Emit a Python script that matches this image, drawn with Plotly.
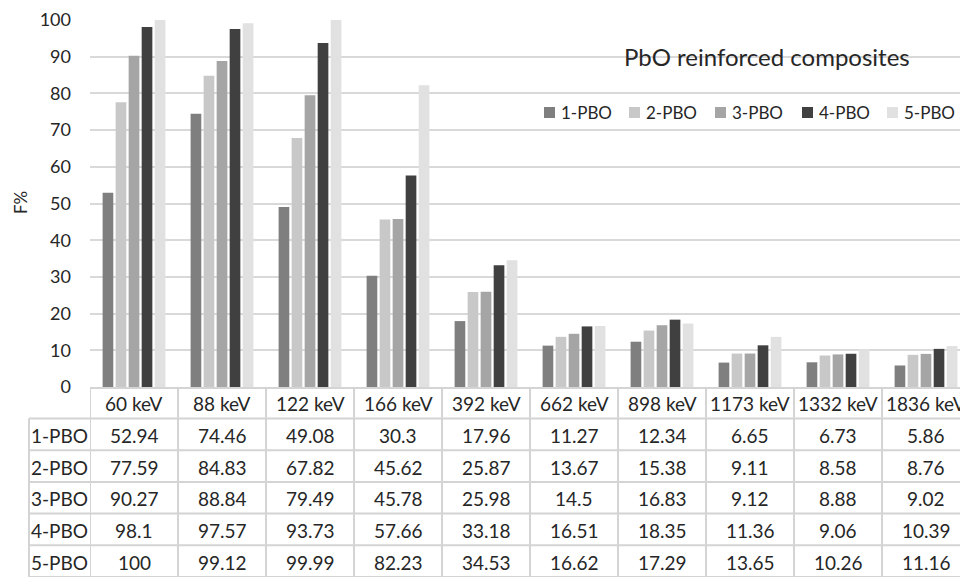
import plotly.graph_objects as go

categories = ["60 keV", "88 keV", "122 keV", "166 keV", "392 keV", "662 keV",
              "898 keV", "1173 keV", "1332 keV", "1836 keV"]
series_names = ["1-PBO", "2-PBO", "3-PBO", "4-PBO", "5-PBO"]
pbo1 = [52.94, 74.46, 49.08, 30.3, 17.96, 11.27, 12.34, 6.65, 6.73, 5.86]
pbo2 = [77.59, 84.83, 67.82, 45.62, 25.87, 13.67, 15.38, 9.11, 8.58, 8.76]
pbo3 = [90.27, 88.84, 79.49, 45.78, 25.98, 14.5, 16.83, 9.12, 8.88, 9.02]
pbo4 = [98.1, 97.57, 93.73, 57.66, 33.18, 16.51, 18.35, 11.36, 9.06, 10.39]
pbo5 = [100, 99.12, 99.99, 82.23, 34.53, 16.62, 17.29, 13.65, 10.26, 11.16]
series_values = [pbo1, pbo2, pbo3, pbo4, pbo5]
y_ticks = [0, 10, 20, 30, 40, 50, 60, 70, 80, 90, 100]

colors = ["#7f7f7f", "#c8c8c8", "#a5a5a5", "#404040", "#e1e1e1"]

W, H = 960, 577
ML, MR, MT, MB = 90, 0, 20, 190
PW = W - ML - MR
PH = H - MT - MB
CELL = 88.0
FONT = "Lato, Open Sans, sans-serif"
TXT = "#262626"
LINE = "#d4d4d4"


def px_x(p):
    return (p - ML) / PW


def px_y(p):
    return (H - MB - p) / PH


fig = go.Figure()
for name, vals, col in zip(series_names, series_values, colors):
    fig.add_trace(go.Bar(x=categories, y=vals, name=name, marker_color=col,
                         marker_line_width=0, showlegend=False))

# table geometry
top = H - MB
header_h = 31.5
row_h = (H - top - header_h) / len(series_names)
label_left = 29
tfont = dict(size=19, color=TXT, family=FONT)

shapes = []
annotations = []
# header labels
for c in categories:
    annotations.append(dict(x=c, y=px_y(top + header_h / 2 + 1), xref="x", yref="paper",
                            xanchor="center", yanchor="middle",
                            text=c, showarrow=False, font=tfont))
# rows
for r, (name, vals) in enumerate(zip(series_names, series_values)):
    yc = top + header_h + row_h * (r + 0.5) + 1
    annotations.append(dict(x=px_x((label_left + ML) / 2), y=px_y(yc), xref="paper", yref="paper",
                            xanchor="center", yanchor="middle",
                            text=name, showarrow=False, font=tfont))
    for c, v in zip(categories, vals):
        annotations.append(dict(x=c, y=px_y(yc), xref="x", yref="paper", text=f"{v:g}",
                                xanchor="center", yanchor="middle",
                                showarrow=False, font=tfont))
# horizontal lines
for r in range(len(series_names) + 1):
    yy = px_y(top + header_h + row_h * r)
    shapes.append(dict(type="line", xref="paper", yref="paper", x0=px_x(label_left), x1=1,
                       y0=yy, y1=yy, line=dict(color=LINE, width=2)))
# vertical lines
shapes.append(dict(type="line", xref="paper", yref="paper", x0=px_x(label_left), x1=px_x(label_left),
                   y0=px_y(top + header_h), y1=px_y(H + 5), line=dict(color=LINE, width=2)))
for k in range(len(categories) + 1):
    shapes.append(dict(type="line", xref="x", yref="paper", x0=k - 0.5, x1=k - 0.5,
                       y0=0, y1=px_y(H + 5), line=dict(color=LINE, width=2)))

# legend (drawn manually so it keeps the reference spacing)
leg_sq_left = [544, 629, 715, 802, 887]
leg_y = 112.5
for name, col, sx in zip(series_names, colors, leg_sq_left):
    shapes.append(dict(type="rect", xref="paper", yref="paper",
                       x0=px_x(sx), x1=px_x(sx + 11), y0=px_y(leg_y - 5.5), y1=px_y(leg_y + 5.5),
                       fillcolor=col, line=dict(width=0)))
    annotations.append(dict(x=px_x(sx + 15), y=px_y(leg_y), xref="paper", yref="paper",
                            xanchor="left", yanchor="middle", text=name, showarrow=False,
                            font=dict(size=17, color=TXT, family=FONT)))

# chart title
annotations.append(dict(x=px_x(767), y=px_y(56), xref="paper", yref="paper",
                        xanchor="center", yanchor="middle",
                        text="PbO reinforced composites", showarrow=False,
                        font=dict(size=24, color=TXT, family=FONT)))
# y axis title
annotations.append(dict(x=px_x(20), y=px_y(203), xref="paper", yref="paper",
                        xanchor="center", yanchor="middle",
                        text="F%", showarrow=False, textangle=-90,
                        font=dict(size=17, color=TXT, family=FONT)))

fig.update_layout(
    width=W, height=H,
    margin=dict(l=ML, r=MR, t=MT, b=MB, pad=0),
    paper_bgcolor="white", plot_bgcolor="white",
    font=dict(family=FONT, color=TXT, size=17),
    barmode="group", bargap=0.26, bargroupgap=0.18,
    xaxis=dict(range=[-0.5, -0.5 + PW / CELL], showticklabels=False, ticks="",
               showgrid=False, showline=True, linecolor=LINE, linewidth=2, zeroline=False),
    yaxis=dict(range=[0, 100], tickvals=y_ticks, showgrid=True, gridcolor="#d9d9d9",
               gridwidth=1.5, zeroline=False, showline=False, ticks="", ticklabelstandoff=18,
               tickfont=dict(size=18, color=TXT, family=FONT)),
    shapes=shapes, annotations=annotations, showlegend=False,
)

fig.write_html("out.html")
